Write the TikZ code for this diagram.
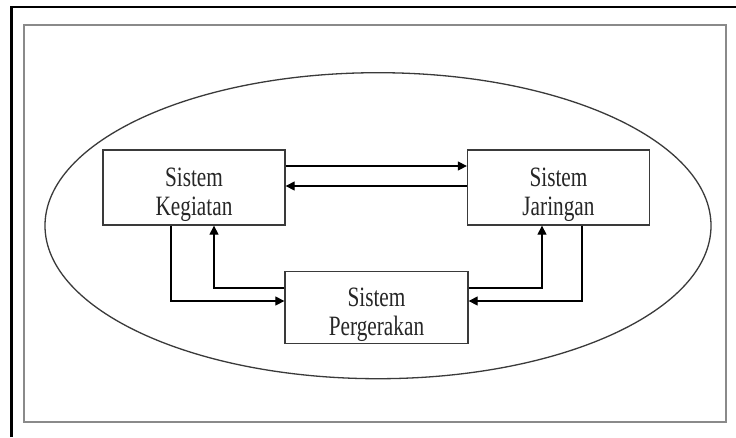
\documentclass[tikz,border=0pt]{standalone}
\usepackage{fontspec}
\setmainfont[FakeStretch=0.76]{Liberation Serif}
\usetikzlibrary{arrows.meta}
\definecolor{boxline}{HTML}{3A3A3A}
\definecolor{textcol}{HTML}{262626}
\definecolor{framegray}{HTML}{8A8A8A}
\newcommand{\twolines}[2]{\smash{\raisebox{1pt}{\begin{tabular}[t]{@{}c@{}}#1\\#2\end{tabular}}}}
\tikzset{
  sysbox/.style={draw=boxline, line width=1.3pt, minimum width=182pt, minimum height=75pt,
    inner sep=0pt, align=center, text=textcol,
    font=\fontsize{28pt}{28.5pt}\selectfont},
  arr/.style={draw=black, line width=1.2pt, -{Triangle[length=9pt,width=9pt]}}
}
\begin{document}
\begin{tikzpicture}[x=1pt,y=-1pt]
\useasboundingbox (0,0) rectangle (736,437);
\fill[white] (0,0) rectangle (736,437);
% outer thick frame (left and top)
\draw[line width=2.2pt, black] (11.5,437) -- (11.5,7) -- (736,7);
% inner gray frame
\draw[framegray, line width=1.6pt] (24,25) rectangle (726,422);
% ellipse
\draw[boxline, line width=1.3pt] (378,225.7) ellipse [x radius=333, y radius=153];
% boxes
\node[sysbox] (keg) at (194,187.5) {\twolines{Sistem}{Kegiatan}};
\node[sysbox] (jar) at (558.5,187.5) {\twolines{Sistem}{Jaringan}};
\node[sysbox, minimum height=71.5pt, minimum width=183pt] (per) at (376.5,307.5) {\twolines{Sistem}{Pergerakan}};
% top arrows
\draw[arr] (keg.east |- 0,166) -- (jar.west |- 0,166);
\draw[arr] (jar.west |- 0,186) -- (keg.east |- 0,186);
% left loop
\draw[arr] (keg.south -| 171,0) |- (per.west |- 0,301);
\draw[arr] (per.west |- 0,288) -| (keg.south -| 214,0);
% right loop
\draw[arr] (per.east |- 0,288) -| (jar.south -| 542,0);
\draw[arr] (jar.south -| 582,0) |- (per.east |- 0,301);
\end{tikzpicture}
\end{document}
